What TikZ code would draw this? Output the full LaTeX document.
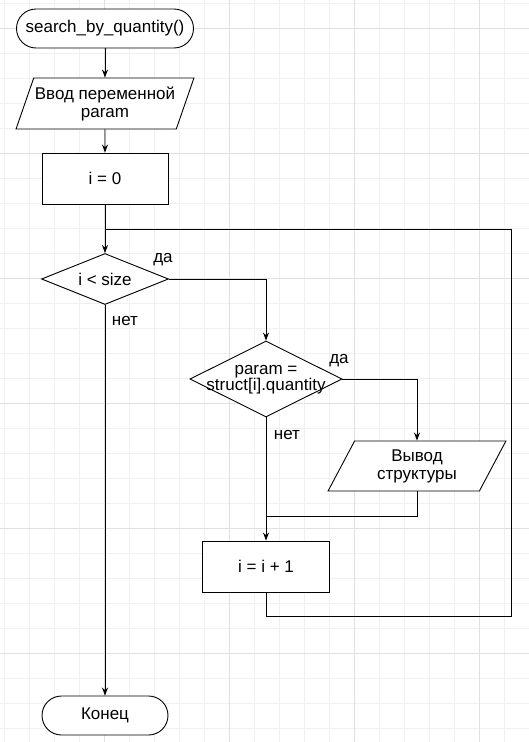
\documentclass[tikz,border=0pt]{standalone}
\usepackage{fontspec}
\setmainfont{Liberation Sans}
\usetikzlibrary{shapes.geometric,arrows.meta}
\begin{document}
\begin{tikzpicture}[x=1pt,y=-1pt,
 every node/.style={font=\fontsize{17}{18}\selectfont, align=center},
 base/.style={draw, fill=white, line width=0.9pt, inner sep=0pt},
 term/.style={base, rectangle, rounded corners=19.5pt, minimum height=39pt},
 proc/.style={base, rectangle, minimum height=51pt},
 io/.style={base, trapezium, trapezium left angle=63, trapezium right angle=117, trapezium stretches=true, minimum height=51pt, minimum width=178pt},
 dec/.style={base, diamond},
 arr/.style={line width=0.9pt, -{Stealth[length=8pt,width=6pt]}},
 ln/.style={line width=0.9pt},
 lab/.style={inner sep=0pt},
 minorgrid/.style={draw=black!6, line width=0.9pt},
 majorgrid/.style={draw=black!12, line width=0.9pt}
]
\useasboundingbox (0,0) rectangle (529,742);
\fill[white] (0,0) rectangle (529,742);
% grid
\foreach \k in {0,...,21} {
  \draw[minorgrid] ({4.5+25*\k},0) -- ({4.5+25*\k},742);
}
\foreach \k in {0,...,29} {
  \draw[minorgrid] (0,{3+25*\k}) -- (529,{3+25*\k});
}
\foreach \k in {0,...,4} {
  \draw[majorgrid] ({104.5+125*\k},0) -- ({104.5+125*\k},742);
}
\foreach \k in {0,...,5} {
  \draw[majorgrid] (0,{28+125*\k}) -- (529,{28+125*\k});
}

% nodes
\node[term, minimum width=177pt] (start) at (105,28.5) {search\_by\_quantity()};
\node[io] (in1) at (105,103.5) {Ввод переменной\\param};
\node[proc, minimum width=126pt] (init) at (105,178.5) {i = 0};
\node[dec, minimum width=127pt, minimum height=51pt] (dia1) at (105,279) {};
\node[lab] (dia1t) at (105,279) {i < size};
\node[dec, minimum width=152pt, minimum height=76pt] (dia2) at (266,379) {};
\node[lab, font=\fontsize{17}{16}\selectfont] (dia2t) at (266,380) {param =\\struct[i].quantity};
\node[io, minimum height=50pt] (out) at (417,466) {Вывод\\структуры};
\node[proc, minimum width=127pt] (inc) at (266,566.5) {i = i + 1};
\node[term, minimum width=126pt] (end) at (105,715.5) {Конец};

% labels
\node[lab] (l1) at (163,260) {да};
\node[lab] (l2) at (125,321) {нет};
\node[lab] (l3) at (339,361) {да};
\node[lab] (l4) at (287,435) {нет};

% coordinates
\coordinate (j1) at (266,516);
\coordinate (r1) at (511,616);
\coordinate (r2) at (511,229);
\coordinate (j2) at (105,229);

% connectors
\draw[arr] (start) -- (in1);
\draw[arr] (in1) -- (init);
\draw[arr] (init) -- (dia1);
\draw[arr] (dia1.east) -| (dia2.north);
\draw[arr] (dia2.east) -| (out.center |- out.north);
\draw[arr] (dia2.south) -- (inc.north);
\draw[ln] (out.center |- out.south) |- (j1);
\draw[ln] (inc.south) |- (r1) -- (r2) -- (j2);
\draw[arr] (dia1.south) -- (end.north);
\end{tikzpicture}
\end{document}
